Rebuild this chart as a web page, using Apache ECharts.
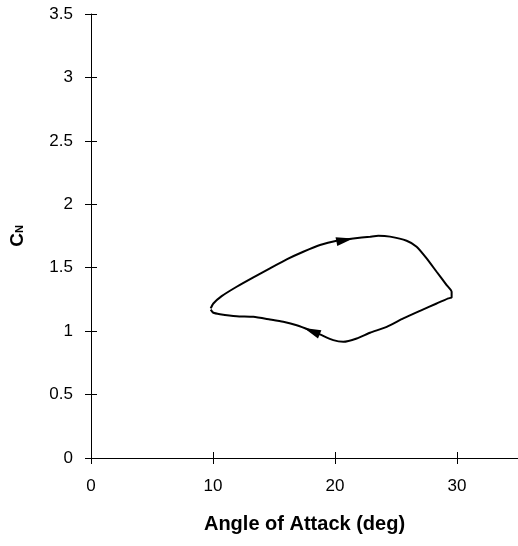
<!DOCTYPE html>
<html>
<head>
<meta charset="utf-8">
<script src="https://cdn.jsdelivr.net/npm/echarts@6/dist/echarts.min.js"></script>
<style>
  html, body { margin: 0; padding: 0; background: #fff; }
  #chart { width: 518px; height: 546px; }
</style>
</head>
<body>
<div id="chart"></div>
<script>
// hysteresis loop (clockwise: upper branch left->right, lower branch right->left)
var alpha = [9.81, 10.03, 10.71, 11.94, 13.31, 14.67, 16.04, 17.40, 18.77, 20.14, 21.50, 22.87, 23.55,
  24.51, 25.87, 26.69, 27.51, 28.33, 29.15, 29.56, 29.56,
  29.29, 28.33, 26.97, 25.60, 24.24, 22.87, 21.78, 20.68, 19.86, 18.77, 17.95, 16.86, 15.76,
  14.67, 13.31, 11.94, 10.57, 10.03, 9.81];
var cn = [1.179, 1.218, 1.276, 1.350, 1.424, 1.495, 1.566, 1.626, 1.679, 1.713, 1.731, 1.745, 1.752,
  1.745, 1.713, 1.666, 1.574, 1.468, 1.363, 1.310, 1.266,
  1.258, 1.218, 1.160, 1.100, 1.034, 0.987, 0.942, 0.916, 0.929, 0.974, 1.008, 1.047, 1.074,
  1.092, 1.113, 1.118, 1.134, 1.145, 1.170];

// direction arrows [alpha, cn, rotation]
var arrows = [
  [20.8, 1.718, -79],
  [18.1, 1.0, 68]
];

var xTicks = { min: 0, max: 35, interval: 10 };
var yTicks = { min: 0, max: 3.5, interval: 0.5 };

var chart = echarts.init(document.getElementById("chart"));

var pts = [];
for (var i = 0; i < alpha.length; i++) {
  pts.push([alpha[i], cn[i]]);
}

var font = "Liberation Sans";

var option = {
  animation: false,
  grid: { left: 91, right: 0, top: 14, bottom: 88 },
  xAxis: [
    {
      type: "value",
      min: xTicks.min,
      max: xTicks.max,
      interval: xTicks.interval,
      name: "Angle of Attack (deg)",
      nameLocation: "middle",
      nameGap: 56,
      nameTextStyle: { fontFamily: font, fontSize: 20, fontWeight: "bold", color: "#000" },
      axisLine: { lineStyle: { color: "#000", width: 1 } },
      axisTick: { length: 6, lineStyle: { color: "#000" } },
      axisLabel: { margin: 20, fontFamily: font, fontSize: 17, color: "#000", showMaxLabel: false },
      splitLine: { show: false }
    },
    {
      // upper half of the crossing ticks
      type: "value",
      position: "bottom",
      min: xTicks.min,
      max: xTicks.max,
      interval: xTicks.interval,
      axisLine: { show: false },
      axisTick: { inside: true, length: 6, lineStyle: { color: "#000" } },
      axisLabel: { show: false },
      splitLine: { show: false }
    }
  ],
  yAxis: [
    {
      type: "value",
      min: yTicks.min,
      max: yTicks.max,
      interval: yTicks.interval,
      name: "C{n|N}",
      nameLocation: "middle",
      nameGap: 64,
      nameTextStyle: {
        fontFamily: font, fontSize: 19, fontWeight: "bold", color: "#000",
        rich: { n: { fontFamily: font, fontSize: 11, fontWeight: "bold", color: "#000", padding: [4, 0, 0, 0] } }
      },
      axisLine: { lineStyle: { color: "#000", width: 1 } },
      axisTick: { length: 6, lineStyle: { color: "#000" } },
      axisLabel: { margin: 18, fontFamily: font, fontSize: 17, color: "#000" },
      splitLine: { show: false }
    },
    {
      type: "value",
      position: "left",
      min: yTicks.min,
      max: yTicks.max,
      interval: yTicks.interval,
      axisLine: { show: false },
      axisTick: { inside: true, length: 6, lineStyle: { color: "#000" } },
      axisLabel: { show: false },
      splitLine: { show: false }
    }
  ],
  series: [
    {
      type: "line",
      xAxisIndex: 0,
      yAxisIndex: 0,
      data: pts,
      showSymbol: false,
      smooth: 0.2,
      lineStyle: { color: "#000", width: 2 },
      markPoint: {
        symbol: "triangle",
        symbolSize: [9, 17],
        itemStyle: { color: "#000" },
        label: { show: false },
        data: arrows.map(function (a) {
          return { coord: [a[0], a[1]], symbolRotate: a[2] };
        })
      }
    }
  ]
};

chart.setOption(option);
window.addEventListener("resize", function () {
  chart.resize();
});
</script>
</body>
</html>
